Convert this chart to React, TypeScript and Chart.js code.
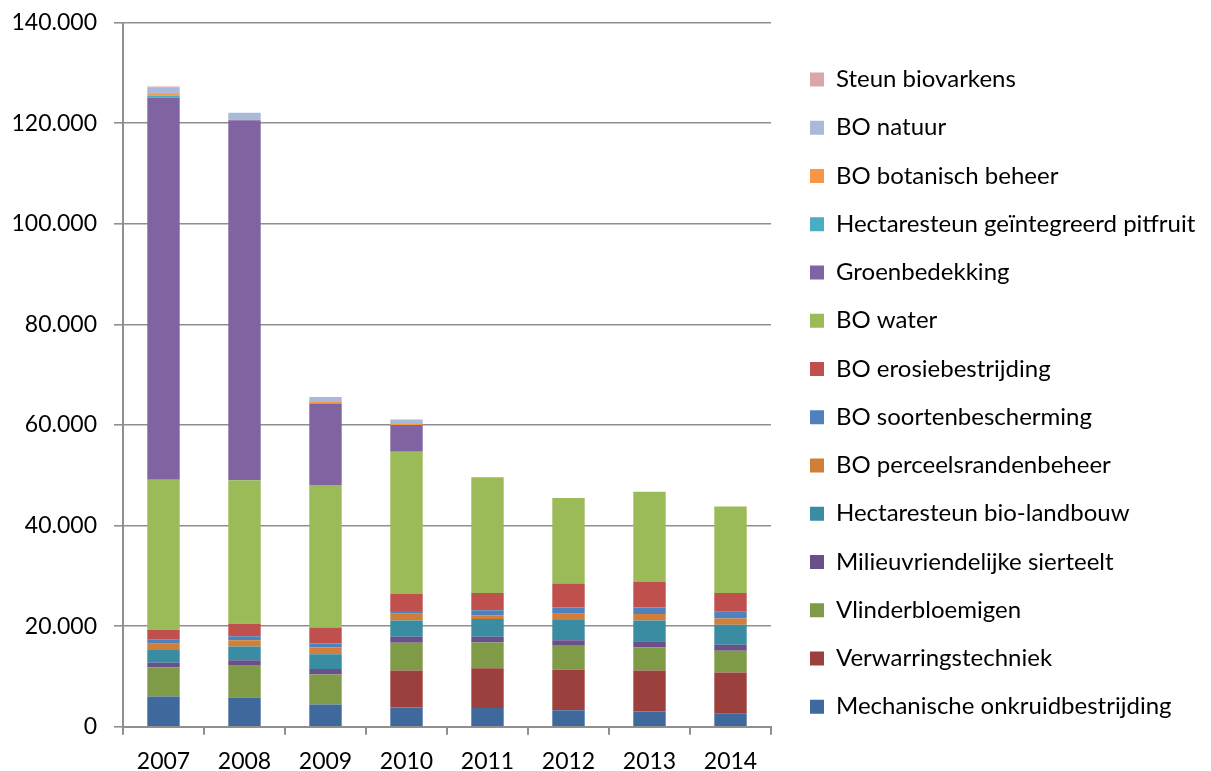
import React, { useEffect, useRef } from "react";
import { Chart, registerables } from "chart.js";

Chart.register(...registerables);

const years = ["2007", "2008", "2009", "2010", "2011", "2012", "2013", "2014"];

const mechanischeOnkruidbestrijding = [6000, 5800, 4400, 3800, 3740, 3280, 3000, 2600];
const verwarringstechniek = [0, 0, 0, 7400, 7860, 8060, 8200, 8200];
const vlinderbloemigen = [5800, 6480, 6000, 5480, 5140, 4740, 4540, 4280];
const milieuvriendelijkeSierteelt = [900, 920, 1080, 1200, 1140, 1120, 1260, 1200];
const hectaresteunBioLandbouw = [2700, 2740, 2920, 3260, 3520, 4000, 4140, 4000];
const boPerceelsrandenbeheer = [1100, 1260, 1340, 1340, 740, 1280, 1260, 1260];
const boSoortenbescherming = [900, 800, 800, 520, 1000, 1200, 1280, 1340];
const boErosiebestrijding = [1900, 2480, 3200, 3400, 3460, 4800, 5120, 3720];
const boWater = [29800, 28520, 28340, 28300, 23000, 17000, 17940, 17200];
const groenbedekking = [76000, 71600, 16200, 5300, 0, 0, 0, 0];
const hectaresteunPitfruit = [400, 0, 0, 0, 0, 0, 0, 0];
const boBotanischBeheer = [300, 200, 270, 200, 0, 0, 0, 0];
const boNatuur = [1260, 1300, 1000, 880, 0, 0, 0, 0];
const steunBiovarkens = [270, 0, 0, 0, 0, 0, 0, 0];

const seriesNames = [
  "Mechanische onkruidbestrijding",
  "Verwarringstechniek",
  "Vlinderbloemigen",
  "Milieuvriendelijke sierteelt",
  "Hectaresteun bio-landbouw",
  "BO perceelsrandenbeheer",
  "BO soortenbescherming",
  "BO erosiebestrijding",
  "BO water",
  "Groenbedekking",
  "Hectaresteun geïntegreerd pitfruit",
  "BO botanisch beheer",
  "BO natuur",
  "Steun biovarkens",
];

const seriesValues = [
  mechanischeOnkruidbestrijding,
  verwarringstechniek,
  vlinderbloemigen,
  milieuvriendelijkeSierteelt,
  hectaresteunBioLandbouw,
  boPerceelsrandenbeheer,
  boSoortenbescherming,
  boErosiebestrijding,
  boWater,
  groenbedekking,
  hectaresteunPitfruit,
  boBotanischBeheer,
  boNatuur,
  steunBiovarkens,
];

const seriesColors = [
  "#3F689C",
  "#9C403E",
  "#7F9B48",
  "#6A5088",
  "#3A8CA2",
  "#D17F38",
  "#4F81BD",
  "#C0504D",
  "#9BBB59",
  "#8064A2",
  "#4BACC6",
  "#F79646",
  "#A9B9D9",
  "#D9A7A8",
];

const yTickValues = [0, 20000, 40000, 60000, 80000, 100000, 120000, 140000];

const W = 1211;
const H = 771;
const AREA_LEFT = 123;
const AREA_RIGHT = 771;
const AREA_TOP = 22.7;
const AREA_BOTTOM = 726.7;
const LEGEND_FONT = 24;
const LEGEND_PAD = 24.25;
const LEGEND_BOX_X = 810;
const LEGEND_FIRST_TOP = 67.5;

const GRID = "#8f8f8f";
const FONT = "Lato, 'Open Sans', sans-serif";

const fmt = (v: number) => String(Math.round(v)).replace(/\B(?=(\d{3})+(?!\d))/g, ".");

const legendPlacer = {
  id: "legendPlacer",
  beforeLayout(chart: any) {
    const lg = chart.legend;
    if (lg && !lg.__patched) {
      const origFit = lg.fit;
      lg.fit = function () {
        origFit.call(this);
        this.width = W - AREA_RIGHT;
      };
      lg.__patched = true;
    }
  },
  afterLayout(chart: any) {
    const lg = chart.legend;
    if (!lg) return;
    const w = lg.width;
    const h = lg.height;
    lg.left = LEGEND_BOX_X - LEGEND_PAD;
    lg.right = lg.left + w;
    lg.top = LEGEND_FIRST_TOP - LEGEND_PAD;
    lg.bottom = lg.top + h;
  },
};

export default function App() {
  const ref = useRef<HTMLCanvasElement | null>(null);

  useEffect(() => {
    if (!ref.current) return;
    const chart = new Chart(ref.current, {
      type: "bar",
      data: {
        labels: years,
        datasets: seriesNames.map((name, i) => ({
          label: name,
          data: seriesValues[i],
          backgroundColor: seriesColors[i],
          borderWidth: 0,
          barPercentage: 0.4,
          categoryPercentage: 1,
        })),
      },
      options: {
        animation: false,
        responsive: false,
        devicePixelRatio: 1,
        layout: { padding: { left: 0, right: 0, top: AREA_TOP, bottom: 0 } },
        plugins: {
          tooltip: { enabled: false },
          legend: {
            position: "right",
            align: "start",
            reverse: true,
            labels: {
              font: { family: FONT, size: LEGEND_FONT },
              color: "#000",
              boxWidth: 14,
              boxHeight: 14,
              padding: LEGEND_PAD,
            },
          },
        },
        scales: {
          x: {
            stacked: true,
            offset: true,
            grid: {
              display: true,
              offset: true,
              drawOnChartArea: false,
              drawTicks: true,
              tickLength: 8,
              color: GRID,
              lineWidth: 2,
            },
            border: { display: true, color: GRID, width: 2 },
            ticks: {
              font: { family: FONT, size: 23 },
              color: "#000",
              padding: 13,
              maxRotation: 0,
            },
            afterFit(s: any) {
              s.paddingLeft = 0;
              s.paddingRight = 0;
              s.height = H - AREA_BOTTOM;
            },
          },
          y: {
            stacked: true,
            min: 0,
            max: 140000,
            afterBuildTicks(s: any) {
              s.ticks = yTickValues.map((v) => ({ value: v }));
            },
            grid: {
              color: GRID,
              lineWidth: 1.6,
              drawTicks: true,
              tickLength: 9,
            },
            border: { display: true, color: GRID, width: 2 },
            ticks: {
              font: { family: FONT, size: 23 },
              color: "#000",
              padding: 17,
              callback: (v: any) => fmt(Number(v)),
            },
            afterFit(s: any) {
              s.paddingTop = 0;
              s.paddingBottom = 0;
              s.width = AREA_LEFT;
            },
          },
        },
      },
      plugins: [legendPlacer],
    } as any);
    return () => chart.destroy();
  }, []);

  return (
    <div
      style={{
        position: "fixed",
        left: 0,
        top: 0,
        width: W,
        height: H,
        background: "#fff",
      }}
    >
      <canvas ref={ref} width={W} height={H} style={{ display: "block" }} />
    </div>
  );
}
